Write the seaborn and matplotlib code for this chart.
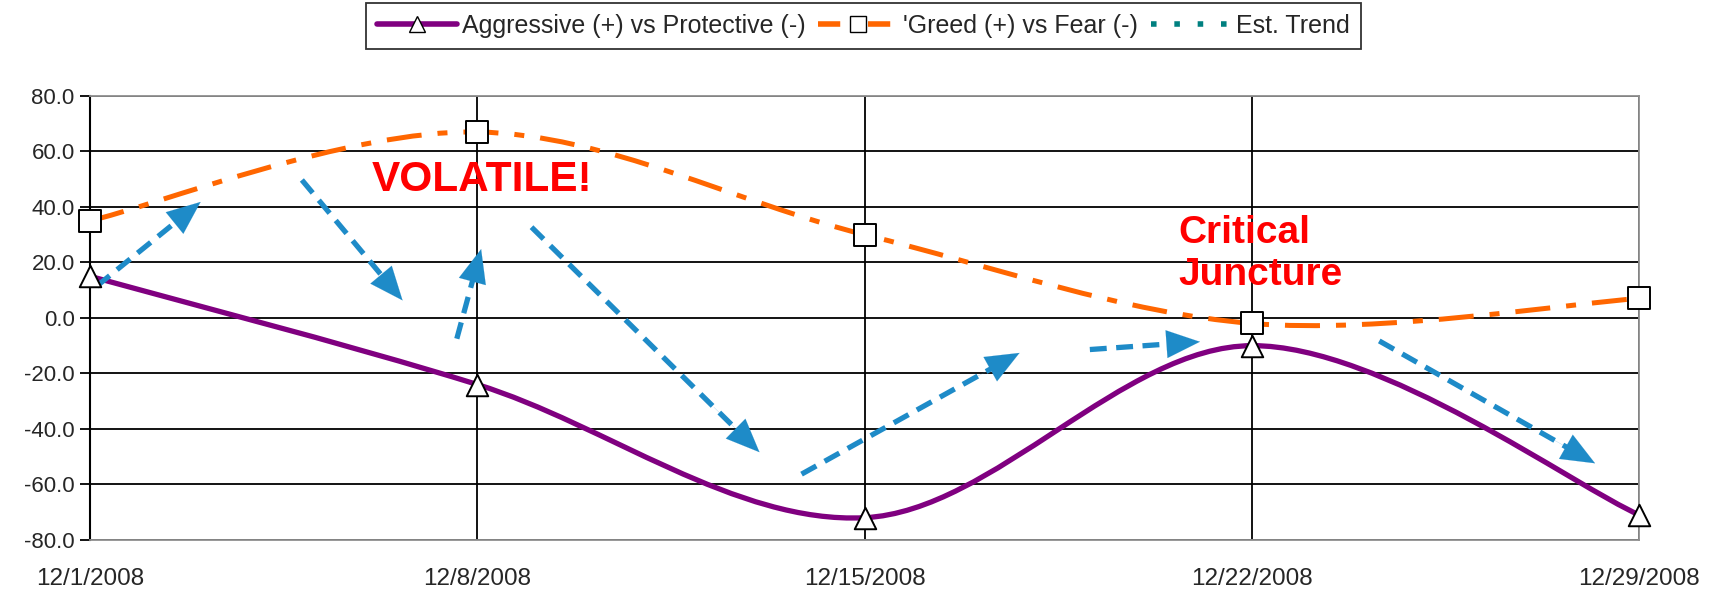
import matplotlib
matplotlib.use("Agg")
import matplotlib.pyplot as plt
import matplotlib.dates as mdates
from matplotlib.path import Path
from matplotlib.patches import PathPatch
from matplotlib.lines import Line2D
import numpy as np
import pandas as pd
import seaborn as sns

DATES = ["2008-12-01", "2008-12-08", "2008-12-15", "2008-12-22", "2008-12-29"]
AGGRESSIVE = [15.0, -24.0, -72.0, -10.0, -71.0]
GREED = [35.0, 67.0, 30.0, -2.0, 7.0]
# est. trend arrows: (start day, start value, end day, end value), days after 12/1
TREND = [
    (0.12, 11.4, 2.0, 41.8),
    (3.83, 49.7, 5.65, 6.3),
    (6.63, -7.5, 7.07, 24.8),
    (7.98, 32.7, 12.1, -48.4),
    (12.86, -56.3, 16.8, -12.6),
    (18.07, -11.4, 20.06, -8.6),
    (23.3, -8.3, 27.2, -52.4),
]
Y_TICKS = [-80, -60, -40, -20, 0, 20, 40, 60, 80]

PURPLE = "#800080"
ORANGE = "#FF6600"
TEAL = "#008080"
ARROW_BLUE = "#1E8BC8"
ORANGE_DASH = (0, (7.0, 3.2, 2.0, 3.2))


def smooth_path(x, y):
    # excel-style smoothed line: catmull-rom segments as cubic beziers
    pts = np.column_stack([x, y])
    ext = np.vstack([pts[0], pts, pts[-1]])
    verts = [pts[0]]
    codes = [Path.MOVETO]
    for i in range(len(pts) - 1):
        p0, p1, p2, p3 = ext[i], ext[i + 1], ext[i + 2], ext[i + 3]
        verts += [p1 + (p2 - p0) / 6, p2 - (p3 - p1) / 6, p2]
        codes += [Path.CURVE4] * 3
    return Path(verts, codes)


sns.set_theme(style="white")
plt.rcParams["font.family"] = ["Liberation Sans", "DejaVu Sans"]

df = pd.DataFrame({"date": pd.to_datetime(DATES), "aggressive": AGGRESSIVE, "greed": GREED})
xnum = mdates.date2num(df["date"])

fig = plt.figure(figsize=(17.13, 5.92), dpi=100)
ax = fig.add_axes([0.0525, 0.088, 0.9045, 0.75])

ax.add_patch(PathPatch(smooth_path(xnum, df["greed"].values), fill=False,
                       edgecolor=ORANGE, lw=3.6, linestyle=ORANGE_DASH,
                       capstyle="butt", zorder=3))
ax.add_patch(PathPatch(smooth_path(xnum, df["aggressive"].values), fill=False,
                       edgecolor=PURPLE, lw=3.8, zorder=3))

sns.scatterplot(data=df, x="date", y="greed", marker="s", s=240, color="white",
                edgecolor="black", linewidth=1.4, ax=ax, zorder=5, legend=False,
                clip_on=False)
sns.scatterplot(data=df, x="date", y="aggressive", marker="^", s=240, color="white",
                edgecolor="black", linewidth=1.4, ax=ax, zorder=5, legend=False,
                clip_on=False)

start = xnum[0]
for d0, v0, d1, v1 in TREND:
    x0, x1 = start + d0, start + d1
    # dashed shaft stops short of the tip, solid head covers the rest
    f = 0.9
    ax.plot([x0, x0 + f * (x1 - x0)], [v0, v0 + f * (v1 - v0)], color=ARROW_BLUE,
            lw=3.8, linestyle=(0, (3.2, 1.8)), solid_capstyle="butt", zorder=4)
    hx, hy = x0 + 0.8 * (x1 - x0), v0 + 0.8 * (v1 - v0)
    ax.annotate("", xy=(x1, v1), xytext=(hx, hy),
                arrowprops=dict(arrowstyle="-|>,head_length=1.2,head_width=0.5",
                                color=ARROW_BLUE, lw=0.1, shrinkA=0, shrinkB=0,
                                mutation_scale=20),
                zorder=4)

ax.text(start + 5.1, 49.7, "VOLATILE!", color="red", fontsize=30.5,
        fontweight="bold", va="center", ha="left", zorder=6)
ax.text(start + 19.67, 23.0, "Critical\nJuncture", color="red", fontsize=28,
        fontweight="bold", va="center", ha="left", linespacing=1.2, zorder=6)

ax.set_xlim(xnum[0], xnum[-1])
ax.set_ylim(-80, 80)
ax.set_xticks(xnum)
ax.set_xticklabels([f"{d.month}/{d.day}/{d.year}" for d in df["date"]])
ax.set_yticks(Y_TICKS)
ax.set_yticklabels([f"{v:.1f}" for v in Y_TICKS])
ax.set_xlabel("")
ax.set_ylabel("")
ax.grid(True, color="black", lw=1.3)
ax.set_axisbelow(True)
ax.tick_params(axis="y", direction="out", length=7, width=1.3, color="black",
               labelsize=16, pad=4, left=True)
ax.tick_params(axis="x", length=0, labelsize=17.5, pad=20)
for side in ["top", "right", "bottom"]:
    ax.spines[side].set_color("#909090")
    ax.spines[side].set_linewidth(1.3)
ax.spines["left"].set_color("black")
ax.spines["left"].set_linewidth(1.5)

handles = [
    Line2D([], [], color=PURPLE, lw=4, marker="^", markersize=12,
           markerfacecolor="white", markeredgecolor="black"),
    Line2D([], [], color=ORANGE, lw=4, linestyle=(0, (4, 2, 1, 2)), marker="s",
           markersize=12, markerfacecolor="white", markeredgecolor="black"),
    Line2D([], [], color=TEAL, lw=4, linestyle=(0, (1, 3.2))),
]
labels = ["Aggressive (+) vs Protective (-)", "'Greed (+) vs Fear (-)", "Est. Trend"]
leg = fig.legend(handles, labels, loc="center", bbox_to_anchor=(0.504, 0.956), ncol=3,
                 fontsize=18, frameon=True, fancybox=False, edgecolor="black",
                 handlelength=3.2, handletextpad=0.2, columnspacing=0.5,
                 borderpad=0.45)
leg.get_frame().set_linewidth(1.3)

fig.savefig("out.png", dpi=100, facecolor="white")
